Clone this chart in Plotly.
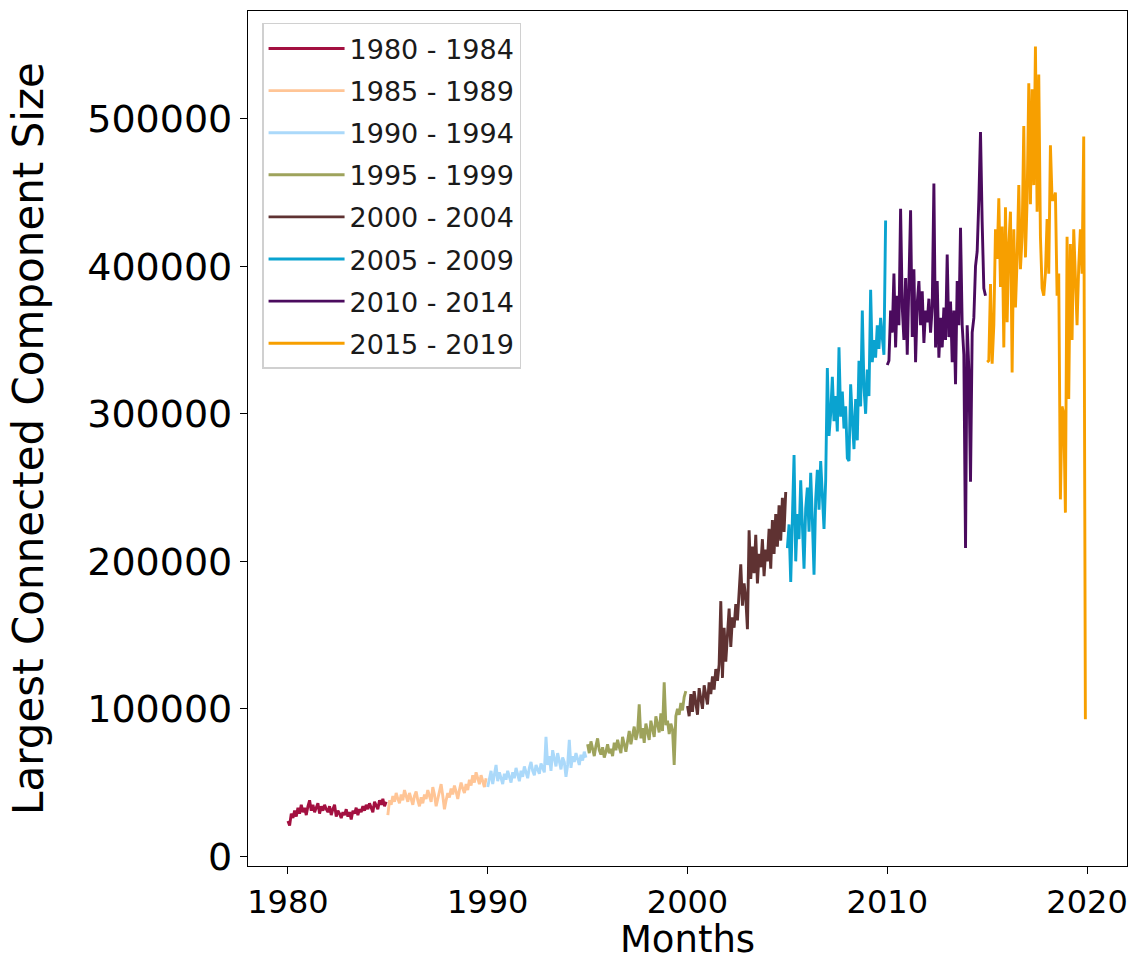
import plotly.graph_objects as go

# Monthly size of the largest connected component, grouped in five-year spans
periods = ["1980 - 1984", "1985 - 1989", "1990 - 1994", "1995 - 1999",
           "2000 - 2004", "2005 - 2009", "2010 - 2014", "2015 - 2019"]
start_years = [1980, 1985, 1990, 1995, 2000, 2005, 2010, 2015]
colors = ["#A31040", "#FFC596", "#ABD9FA", "#9EA35C",
          "#5F3232", "#0AA3D0", "#4B0B5E", "#F79F00"]

lcc_1980 = [24000, 21000, 29000, 26000, 31000, 27000, 33000, 29000, 35000, 30000, 33000, 28000,
            34000, 38000, 31000, 35000, 30000, 33000, 36000, 29000, 34000, 31000, 35000, 32000,
            30000, 34000, 28000, 32000, 35000, 27000, 31000, 29000, 26000, 30000, 28000, 32000,
            27000, 30000, 25000, 31000, 29000, 33000, 28000, 32000, 30000, 34000, 31000, 35000,
            32000, 36000, 33000, 30000, 37000, 34000, 32000, 38000, 35000, 39000, 34000, 37000]
lcc_1985 = [28000, 38000, 35000, 41000, 37000, 43000, 39000, 36000, 42000, 38000, 45000, 40000,
            37000, 43000, 39000, 35000, 41000, 44000, 38000, 34000, 40000, 36000, 42000, 39000,
            45000, 41000, 37000, 47000, 42000, 34000, 39000, 45000, 49000, 41000, 32000, 38000,
            43000, 40000, 46000, 42000, 48000, 44000, 39000, 45000, 50000, 46000, 43000, 49000,
            45000, 52000, 48000, 55000, 50000, 57000, 53000, 49000, 55000, 51000, 47000, 53000]
lcc_1990 = [47000, 52000, 58000, 49000, 55000, 62000, 51000, 57000, 53000, 49000, 56000, 52000,
            58000, 54000, 50000, 57000, 53000, 60000, 55000, 51000, 58000, 54000, 61000, 57000,
            53000, 60000, 64000, 58000, 55000, 62000, 59000, 56000, 63000, 60000, 57000, 81000,
            62000, 68000, 58000, 72000, 65000, 61000, 70000, 63000, 59000, 67000, 64000, 54000,
            62000, 79000, 60000, 68000, 64000, 70000, 66000, 62000, 69000, 65000, 71000, 67000]
lcc_1995 = [76000, 70000, 78000, 73000, 68000, 75000, 80000, 72000, 69000, 74000, 67000, 71000,
            76000, 70000, 73000, 68000, 77000, 72000, 79000, 74000, 70000, 81000, 75000, 71000,
            78000, 85000, 76000, 82000, 88000, 79000, 84000, 103000, 80000, 87000, 77000, 90000,
            83000, 79000, 92000, 86000, 81000, 95000, 88000, 84000, 97000, 85000, 118000, 89000,
            92000, 83000, 90000, 86000, 62000, 95000, 100000, 96000, 104000, 99000, 108000, 112000]
lcc_2000 = [102000, 95000, 110000, 98000, 112000, 104000, 96000, 114000, 106000, 100000, 116000, 108000,
            103000, 118000, 110000, 122000, 113000, 127000, 119000, 130000, 173000, 121000, 155000, 132000,
            150000, 168000, 142000, 162000, 155000, 171000, 160000, 176000, 198000, 170000, 185000, 175000,
            154000, 221000, 188000, 210000, 192000, 218000, 185000, 205000, 196000, 215000, 190000, 208000,
            200000, 222000, 195000, 228000, 205000, 232000, 210000, 238000, 214000, 243000, 220000, 247000]
lcc_2005 = [209000, 225000, 186000, 240000, 272000, 200000, 232000, 215000, 255000, 225000, 195000, 236000,
            250000, 220000, 260000, 228000, 191000, 242000, 262000, 235000, 268000, 245000, 222000, 255000,
            331000, 285000, 300000, 325000, 295000, 312000, 288000, 345000, 298000, 315000, 290000, 305000,
            270000, 268000, 320000, 296000, 276000, 310000, 282000, 336000, 305000, 370000, 318000, 300000,
            330000, 312000, 384000, 335000, 350000, 338000, 360000, 344000, 365000, 352000, 340000, 431000]
lcc_2010 = [333000, 336000, 370000, 355000, 395000, 345000, 380000, 360000, 439000, 372000, 350000, 392000,
            340000, 385000, 438000, 352000, 398000, 335000, 375000, 390000, 360000, 383000, 348000, 370000,
            362000, 378000, 355000, 372000, 456000, 345000, 390000, 338000, 365000, 345000, 372000, 350000,
            408000, 352000, 376000, 335000, 370000, 320000, 390000, 360000, 426000, 360000, 340000, 209000,
            360000, 330000, 254000, 355000, 365000, 400000, 410000, 445000, 491000, 430000, 385000, 380000]
lcc_2015 = [335000, 336000, 388000, 334000, 360000, 425000, 405000, 446000, 386000, 427000, 345000, 440000,
            362000, 415000, 437000, 328000, 425000, 372000, 405000, 455000, 398000, 420000, 495000, 406000,
            445000, 524000, 442000, 520000, 455000, 549000, 437000, 530000, 420000, 385000, 380000, 395000,
            432000, 395000, 482000, 445000, 445000, 450000, 380000, 395000, 242000, 305000, 300000, 233000,
            420000, 310000, 415000, 350000, 425000, 395000, 360000, 400000, 425000, 395000, 488000, 93000]

series = [lcc_1980, lcc_1985, lcc_1990, lcc_1995, lcc_2000, lcc_2005, lcc_2010, lcc_2015]

FONT = "DejaVu Sans"

fig = go.Figure()
for name, start, color, values in zip(periods, start_years, colors, series):
    months = [start + i / 12 for i in range(len(values))]
    fig.add_trace(go.Scatter(
        x=months, y=values, mode="lines", name=name, legendgroup=name,
        line=dict(color=color, width=2.9),
    ))

fig.update_layout(
    width=1143, height=961,
    margin=dict(l=248, r=16, t=10, b=93),
    plot_bgcolor="white", paper_bgcolor="white",
    font=dict(family=FONT, color="black"),
    showlegend=True,
    legend=dict(
        x=0.016, y=0.986, xanchor="left", yanchor="top",
        bgcolor="white", bordercolor="#D0D0D0", borderwidth=1.5,
        font=dict(family=FONT, size=27, color="#1A1A1A"),
        itemwidth=76, tracegroupgap=4,
    ),
)

fig.update_xaxes(
    range=[1978.0, 2022.0],
    tickmode="array", tickvals=[1980, 1990, 2000, 2010, 2020],
    ticktext=["1980", "1990", "2000", "2010", "2020"],
    ticks="outside", ticklen=7, tickwidth=1.2, tickcolor="black",
    tickfont=dict(family=FONT, size=32, color="black"),
    showline=True, linecolor="black", linewidth=1.2, mirror=True,
    showgrid=False, zeroline=False,
    title=dict(text="Months", font=dict(family=FONT, size=37, color="black"), standoff=5),
)
fig.update_yaxes(
    range=[-6500, 573000],
    tickmode="array", tickvals=[0, 100000, 200000, 300000, 400000, 500000],
    ticktext=["0", "100000", "200000", "300000", "400000", "500000"],
    ticks="outside", ticklen=7, tickwidth=1.2, tickcolor="black",
    tickfont=dict(family=FONT, size=38, color="black"),
    showline=True, linecolor="black", linewidth=1.2, mirror=True,
    showgrid=False, zeroline=False,
    title=dict(text="Largest Connected Component Size", font=dict(family=FONT, size=42, color="black"), standoff=30),
)

fig.write_html("out.html")
